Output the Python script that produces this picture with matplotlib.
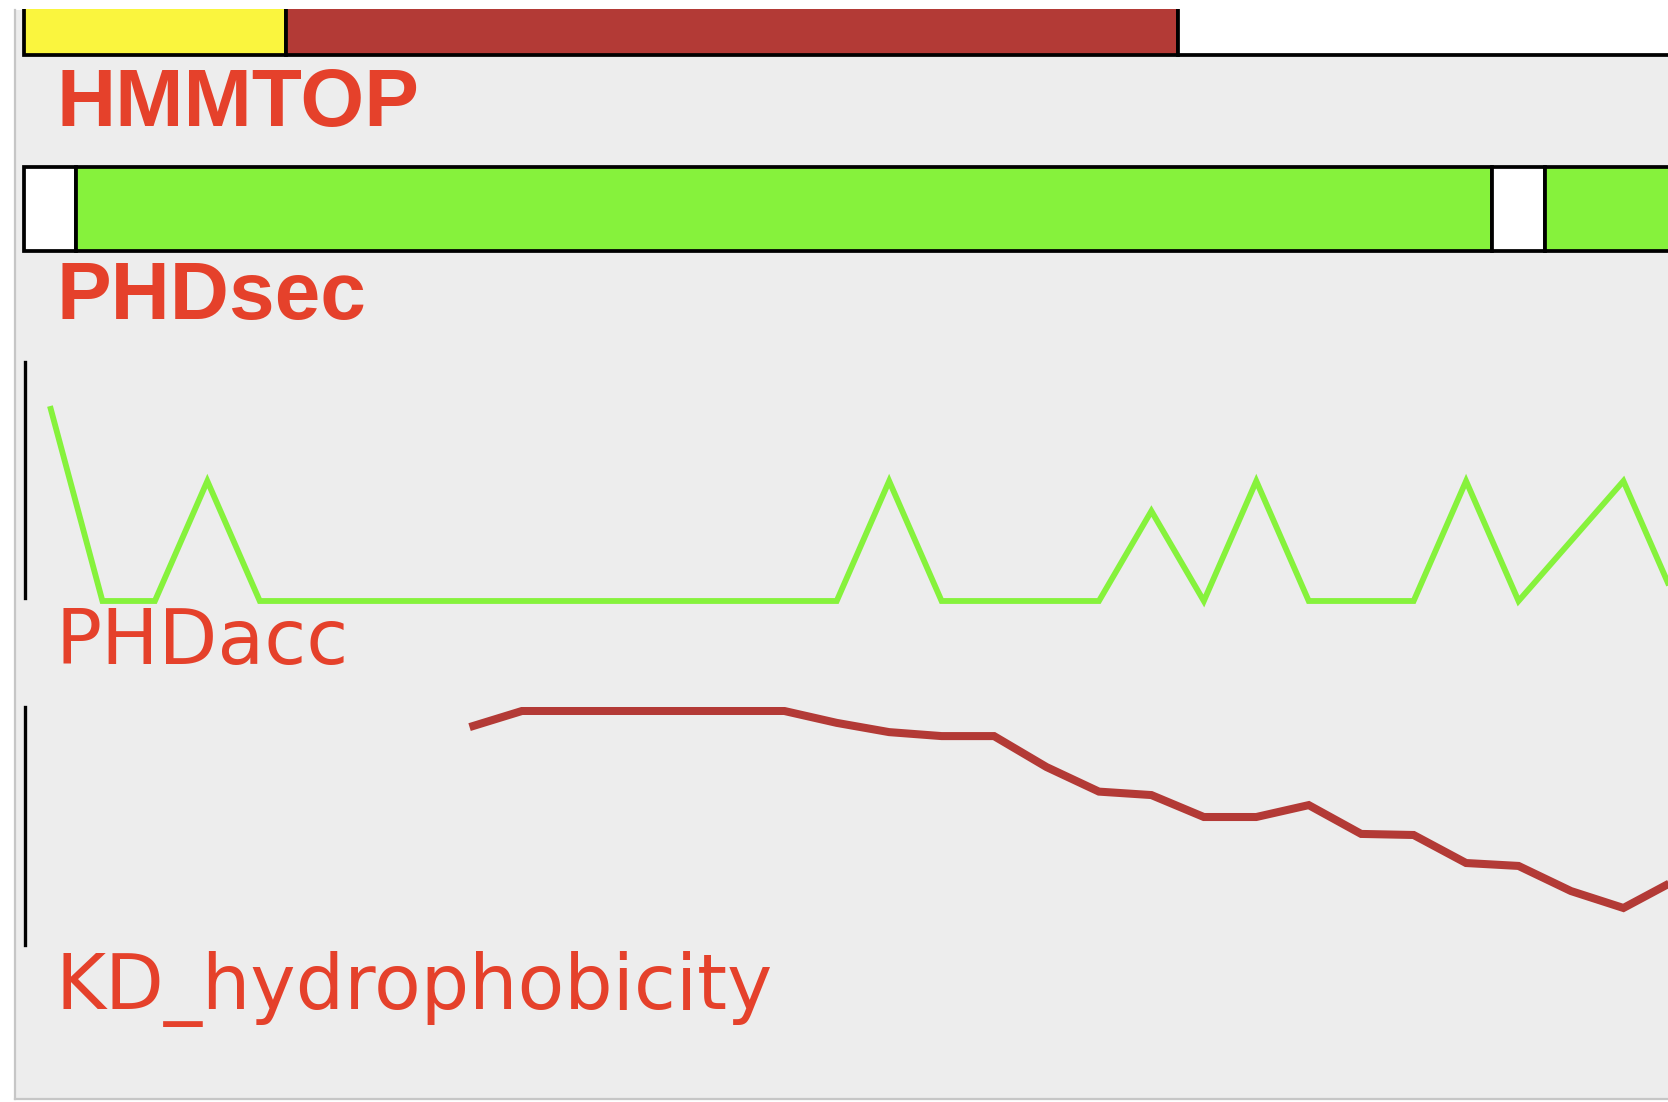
import matplotlib
matplotlib.use("Agg")
import matplotlib.pyplot as plt
from matplotlib.patches import Rectangle
from matplotlib.lines import Line2D

# ---------------- data ----------------
track_labels = ["HMMTOP", "PHDsec", "PHDacc", "KD_hydrophobicity"]

# HMMTOP topology segments (residue ranges, inclusive)
hmmtop_start = [0, 5, 22]
hmmtop_end = [4, 21, 40]
hmmtop_class = ["inside", "membrane", "outside"]

# PHDsec secondary-structure segments
phdsec_start = [0, 1, 28, 29]
phdsec_end = [0, 27, 28, 40]
phdsec_class = ["loop", "helix", "loop", "helix"]

# PHDacc accessibility per residue
phdacc_pos = [0, 1, 2, 3, 4, 5, 6, 7, 8, 9, 10, 11, 12, 13, 14, 15,
              16, 17, 18, 19, 20, 21, 22, 23, 24, 25, 26, 27, 28, 29, 30, 31]
phdacc_val = [6.5, 0, 0, 4, 0, 0, 0, 0, 0, 0, 0, 0, 0, 0, 0, 0,
              4, 0, 0, 0, 0, 3, 0, 4, 0, 0, 0, 4, 0, 2, 4, 0]

# Kyte-Doolittle hydrophobicity (window average)
kd_pos = [8, 9, 10, 11, 12, 13, 14, 15, 16, 17, 18, 19,
          20, 21, 22, 23, 24, 25, 26, 27, 28, 29, 30, 31]
kd_val = [3.74, 4.35, 4.35, 4.35, 4.35, 4.35, 4.35, 3.90, 3.55, 3.40, 3.40, 2.23,
          1.30, 1.17, 0.34, 0.34, 0.79, -0.30, -0.34, -1.40, -1.51, -2.46, -3.10, -2.04]

# ---------------- styling ----------------
W, H = 1668, 1102
BG = "#EDEDED"
LABEL_RED = "#E5412B"
BAR_RED = "#B33A36"
YELLOW = "#FAF53E"
GREEN = "#86F23C"
class_colors = {"inside": YELLOW, "membrane": BAR_RED, "outside": "white",
                "loop": "white", "helix": GREEN}
XLIM = (-0.667, 30.85)


def fx(px):
    return px / W


def fy(px):
    return 1 - px / H


fig = plt.figure(figsize=(W / 100, H / 100), dpi=100)
fig.patch.set_facecolor("white")

# gray panel
fig.patches.append(Rectangle((fx(15), fy(1098)), 1 - fx(15), (1098 - 10) / H,
                             transform=fig.transFigure, facecolor=BG,
                             edgecolor="none", zorder=-10))
fig.lines.append(Line2D([fx(14.5), fx(14.5)], [fy(1098.5), fy(10)],
                        transform=fig.transFigure, color="#C6C6C6", lw=1.6, zorder=-5))
fig.lines.append(Line2D([fx(14.5), 1], [fy(1098.5), fy(1098.5)],
                        transform=fig.transFigure, color="#C6C6C6", lw=1.6, zorder=-5))


def bare_axes(rect):
    ax = fig.add_axes(rect)
    ax.patch.set_visible(False)
    for s in ax.spines.values():
        s.set_visible(False)
    ax.set_xticks([])
    ax.set_yticks([])
    ax.set_xlim(*XLIM)
    return ax


# ---- HMMTOP bar (top edge clipped by panel top) ----
ax1 = bare_axes([fx(15), fy(60), 1 - fx(15), (60 - 9) / H])
ax1.set_ylim(60, 9)
for s, e, c in zip(hmmtop_start, hmmtop_end, hmmtop_class):
    ax1.barh(-40, e - s + 1, left=s - 0.5, height=55 + 40, align="edge",
             color=class_colors[c], edgecolor="black", linewidth=2.7)

# ---- PHDsec bar ----
ax2 = bare_axes([fx(15), fy(256), 1 - fx(15), (256 - 161) / H])
ax2.set_ylim(256, 161)
for s, e, c in zip(phdsec_start, phdsec_end, phdsec_class):
    ax2.barh(167, e - s + 1, left=s - 0.5, height=251 - 167, align="edge",
             color=class_colors[c], edgecolor="black", linewidth=2.7)

# ---- PHDacc line ----
ax3 = bare_axes([fx(15), fy(598), 1 - fx(15), (598 - 362) / H])
ax3.set_ylim(0.1, 7.97)
ax3.spines["left"].set_visible(True)
ax3.spines["left"].set_position(("data", -0.48))
ax3.spines["left"].set_linewidth(2.4)
ax3.plot(phdacc_pos, phdacc_val, color=GREEN, lw=4.2, clip_on=False,
         solid_joinstyle="miter", solid_capstyle="butt")

# ---- KD hydrophobicity line ----
ax4 = bare_axes([fx(15), fy(945), 1 - fx(15), (945 - 707) / H])
ax4.set_ylim(-4.5, 4.5)
ax4.spines["left"].set_visible(True)
ax4.spines["left"].set_position(("data", -0.48))
ax4.spines["left"].set_linewidth(2.4)
ax4.plot(kd_pos, kd_val, color=BAR_RED, lw=5.8, clip_on=True,
         solid_joinstyle="miter", solid_capstyle="butt")

# ---- labels ----
fig.text(fx(56), fy(126), track_labels[0], color=LABEL_RED, fontsize=59,
         fontweight="bold", family="Liberation Sans", va="baseline", ha="left")
fig.text(fx(56), fy(319), track_labels[1], color=LABEL_RED, fontsize=59,
         fontweight="bold", family="Liberation Sans", va="baseline", ha="left")
fig.text(fx(55), fy(664), track_labels[2], color=LABEL_RED, fontsize=55,
         family="DejaVu Sans", va="baseline", ha="left")
fig.text(fx(55), fy(1009), track_labels[3], color=LABEL_RED, fontsize=55,
         family="DejaVu Sans", va="baseline", ha="left")

fig.savefig("out.png", dpi=100, facecolor="white")
